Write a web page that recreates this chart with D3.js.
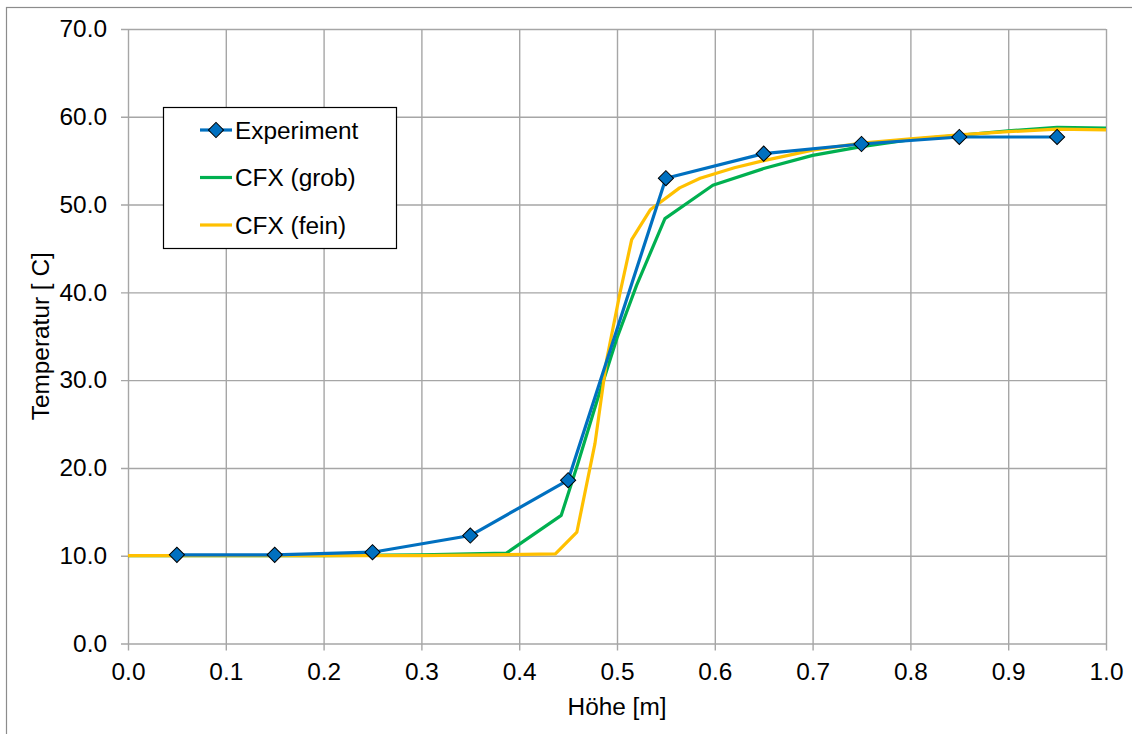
<!DOCTYPE html>
<html>
<head>
<meta charset="utf-8">
<script src="https://cdn.jsdelivr.net/npm/d3@7"></script>
<style>
  html, body { margin: 0; padding: 0; background: #ffffff; }
  svg { display: block; font-family: "Liberation Sans", Arial, sans-serif; }
</style>
</head>
<body>
<svg id="chart" width="1132" height="734"></svg>
<script>
// Measured temperature profile
const experimentX = [0.05, 0.15, 0.25, 0.35, 0.45, 0.55, 0.65, 0.75, 0.85, 0.95];
const experimentT = [10.1, 10.1, 10.4, 12.3, 18.6, 53.0, 55.8, 56.9, 57.7, 57.7];

// CFX result, coarse mesh
const grobX = [0.0, 0.1, 0.2, 0.3, 0.387, 0.443, 0.46, 0.48, 0.50, 0.52, 0.549, 0.598, 0.65, 0.70, 0.75, 0.80, 0.85, 0.90, 0.95, 1.0];
const grobT = [10.0, 10.0, 10.0, 10.1, 10.3, 14.6, 20.5, 27.8, 34.8, 40.8, 48.4, 52.2, 54.1, 55.6, 56.6, 57.4, 57.9, 58.4, 58.8, 58.7];

// CFX result, fine mesh
const feinX = [0.0, 0.1, 0.2, 0.3, 0.437, 0.459, 0.4775, 0.4894, 0.503, 0.515, 0.534, 0.564, 0.585, 0.62, 0.65, 0.70, 0.75, 0.80, 0.85, 0.90, 0.95, 1.0];
const feinT = [10.0, 10.0, 10.0, 10.0, 10.2, 12.7, 22.8, 32.3, 39.9, 46.0, 49.4, 51.9, 53.0, 54.2, 55.0, 56.2, 57.0, 57.5, 57.95, 58.3, 58.6, 58.5];

const xTicks = [0.0, 0.1, 0.2, 0.3, 0.4, 0.5, 0.6, 0.7, 0.8, 0.9, 1.0];
const yTicks = [0, 10, 20, 30, 40, 50, 60, 70];

const seriesNames = ["Experiment", "CFX (grob)", "CFX (fein)"];
const seriesColors = ["#0070C0", "#00B050", "#FFC000"];

const svg = d3.select("#chart");
const plot = { left: 128, right: 1106, top: 29, bottom: 643.5 };
const gridColor = "#a6a6a6";
const fontSize = 24.4;

const x = d3.scaleLinear().domain([0, 1]).range([plot.left, plot.right]);
const y = d3.scaleLinear().domain([0, 70]).range([plot.bottom, plot.top]);

// Chart area border
svg.append("rect")
  .attr("x", 6.5).attr("y", 7.5)
  .attr("width", 1200).attr("height", 800)
  .attr("fill", "#ffffff")
  .attr("stroke", "#8c8c8c").attr("stroke-width", 1.2);

// Horizontal grid + y axis
const yAxis = d3.axisLeft(y)
  .tickValues(yTicks)
  .tickSize(-(plot.right - plot.left))
  .tickSizeOuter(0)
  .tickFormat(d3.format(".1f"));
const gy = svg.append("g").attr("transform", `translate(${plot.left},0)`).call(yAxis);
gy.select(".domain").remove();
gy.selectAll(".tick line")
  .attr("x1", -7)
  .attr("stroke", gridColor).attr("stroke-width", 1.4);
gy.selectAll(".tick text")
  .attr("font-size", fontSize).attr("fill", "#000").attr("x", -21)
  .style("font-family", "'Liberation Sans', Arial, sans-serif");

// Vertical grid + x axis
const xAxis = d3.axisBottom(x)
  .tickValues(xTicks)
  .tickSize(-(plot.bottom - plot.top))
  .tickSizeOuter(0)
  .tickFormat(d3.format(".1f"));
const gx = svg.append("g").attr("transform", `translate(0,${plot.bottom})`).call(xAxis);
gx.select(".domain").remove();
gx.selectAll(".tick line")
  .attr("y1", 7)
  .attr("stroke", gridColor).attr("stroke-width", 1.4);
gx.selectAll(".tick text")
  .attr("font-size", fontSize).attr("fill", "#000").attr("y", 19)
  .style("font-family", "'Liberation Sans', Arial, sans-serif");

// Axis titles
svg.append("text")
  .attr("x", (plot.left + plot.right) / 2).attr("y", 715)
  .attr("text-anchor", "middle").attr("font-size", fontSize)
  .text("Höhe [m]");
svg.append("text")
  .attr("transform", `translate(49,${(plot.top + plot.bottom) / 2}) rotate(-90)`)
  .attr("text-anchor", "middle").attr("font-size", fontSize)
  .text("Temperatur [ C]");

// Series lines
const line = d3.line().x(d => x(d[0])).y(d => y(d[1]));
const seriesData = [
  d3.zip(experimentX, experimentT),
  d3.zip(grobX, grobT),
  d3.zip(feinX, feinT)
];
[1, 2, 0].forEach(i => {
  svg.append("path")
    .datum(seriesData[i])
    .attr("d", line)
    .attr("fill", "none")
    .attr("stroke", seriesColors[i])
    .attr("stroke-width", 3.2)
    .attr("stroke-linejoin", "round");
});

// Diamond markers for measurements
const marker = d3.symbol().type(d3.symbolSquare).size(115);
svg.append("g").selectAll("path")
  .data(seriesData[0])
  .join("path")
  .attr("d", marker)
  .attr("transform", d => `translate(${x(d[0])},${y(d[1])}) rotate(45)`)
  .attr("fill", "#0070C0")
  .attr("stroke", "#000").attr("stroke-width", 1);

// Legend
const legend = svg.append("g");
legend.append("rect")
  .attr("x", 163.5).attr("y", 107.5).attr("width", 233).attr("height", 141)
  .attr("fill", "#ffffff").attr("stroke", "#000").attr("stroke-width", 1.2);
const rowY = [130, 177.5, 225];
seriesNames.forEach((name, i) => {
  legend.append("line")
    .attr("x1", 200).attr("x2", 232)
    .attr("y1", rowY[i]).attr("y2", rowY[i])
    .attr("stroke", seriesColors[i]).attr("stroke-width", 3.2);
  if (i === 0) {
    legend.append("path")
      .attr("d", marker)
      .attr("transform", `translate(216,${rowY[i]}) rotate(45)`)
      .attr("fill", "#0070C0").attr("stroke", "#000").attr("stroke-width", 1);
  }
  legend.append("text")
    .attr("x", 235).attr("y", rowY[i])
    .attr("dy", "0.36em")
    .attr("font-size", fontSize)
    .text(name);
});
</script>
</body>
</html>
